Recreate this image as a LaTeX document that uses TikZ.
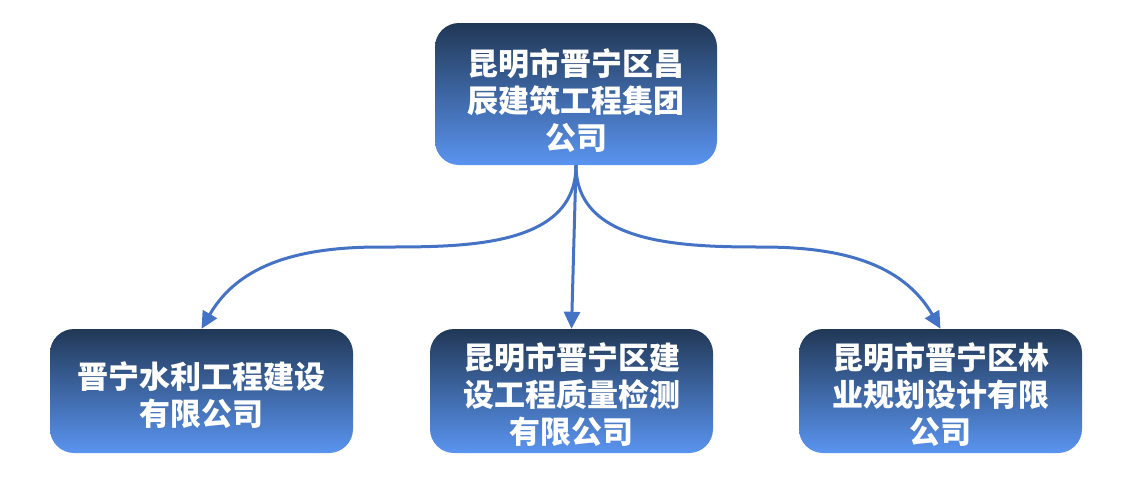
\documentclass[tikz,border=0pt]{standalone}
\usepackage{fontspec}
\setmainfont{Noto Sans CJK SC}
\usetikzlibrary{arrows.meta}
\definecolor{boxtop}{HTML}{213856}
\definecolor{boxbot}{HTML}{5A94F0}
\definecolor{linkblue}{HTML}{4472C4}
\newcommand\topstrut[1]{\rule{0pt}{#1}}
\begin{document}
\begin{tikzpicture}[x=1pt,y=-1pt,
  orgbox/.style={rounded corners=24pt, top color=boxtop, bottom color=boxbot,
    draw=none, text=white, align=center, inner sep=0pt,
    font=\fontsize{31pt}{37pt}\selectfont\bfseries},
  link/.style={draw=linkblue, line width=3pt,
    -{Triangle[length=17pt,width=16pt]}}]
\useasboundingbox (0,0) rectangle (1135,499);
\node[orgbox, minimum width=282pt, minimum height=142pt] (top) at (576,94) {\topstrut{40pt}昆明市晋宁区昌\\辰建筑工程集团\\公司};
\node[orgbox, minimum width=303pt, minimum height=124pt] (l) at (201.5,391) {\topstrut{35pt}晋宁水利工程建设\\有限公司};
\node[orgbox, minimum width=283pt, minimum height=124pt] (m) at (571.5,391) {\topstrut{35pt}昆明市晋宁区建\\设工程质量检测\\有限公司};
\node[orgbox, minimum width=283pt, minimum height=124pt] (r) at (940.5,391) {\topstrut{35pt}昆明市晋宁区林\\业规划设计有限\\公司};
\coordinate (ml) at (380,247);
\coordinate (mr) at (762,247);
\draw[link] (top.south) to[out=-90,in=0] (ml) to[out=180,in=60] (l.north);
\draw[link] (top.south) -- (m.north);
\draw[link] (top.south) to[out=-90,in=180] (mr) to[out=0,in=120] (r.north);
\end{tikzpicture}
\end{document}
